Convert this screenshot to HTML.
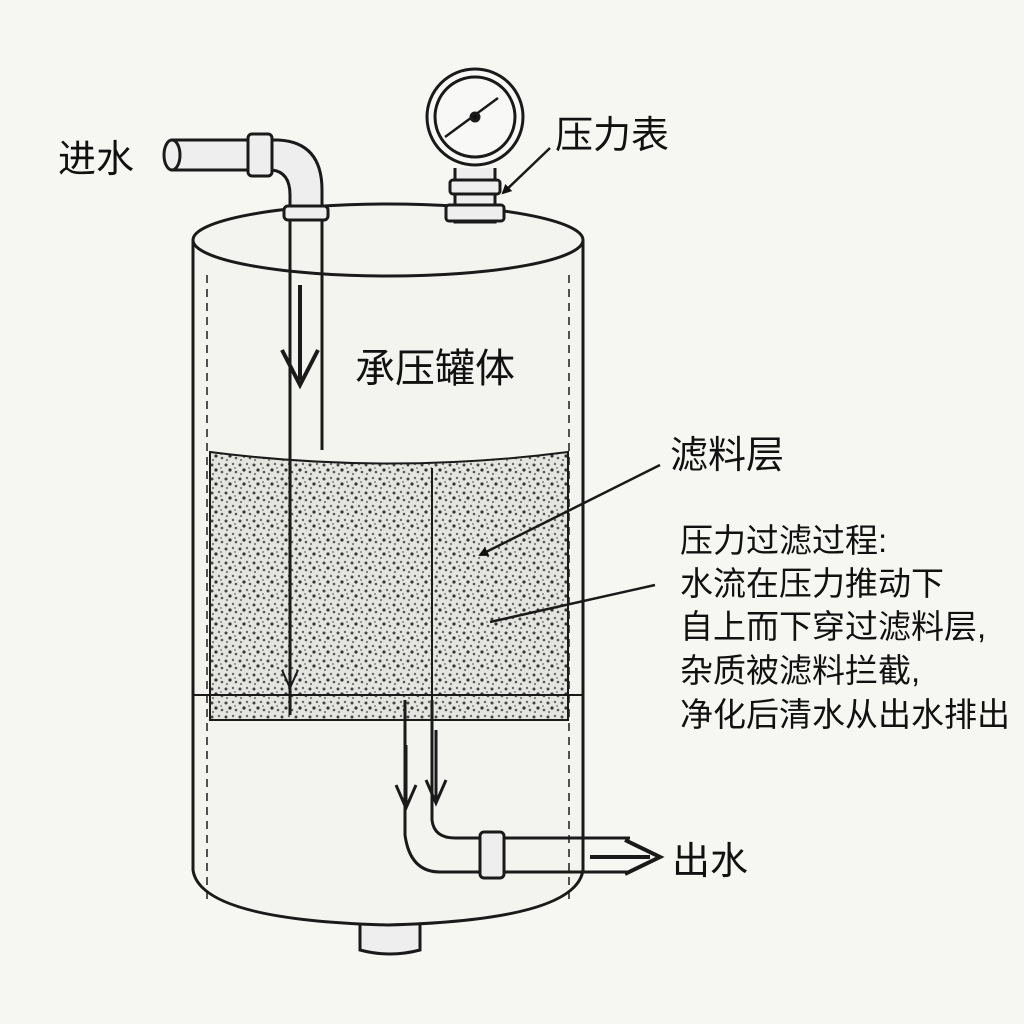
<!DOCTYPE html>
<html><head><meta charset="utf-8"><style>
html,body{margin:0;padding:0;background:#f6f6f3;}
svg{display:block}
text{font-family:"Liberation Sans","Noto Sans CJK SC",sans-serif;fill:#111;}
</style></head><body>
<svg width="1024" height="1024" viewBox="0 0 1024 1024" xmlns="http://www.w3.org/2000/svg">
<defs>
<pattern id="sp" width="14" height="14" patternUnits="userSpaceOnUse">
<rect width="14" height="14" fill="#e4e4e0"/>
<circle cx="2" cy="3" r="1.5" fill="#444"/>
<circle cx="9" cy="2" r="1.2" fill="#666"/>
<circle cx="6" cy="8" r="1.6" fill="#333"/>
<circle cx="12" cy="10" r="1.3" fill="#555"/>
<circle cx="3" cy="12" r="1.1" fill="#777"/>
<circle cx="11" cy="6" r="1" fill="#888"/>
</pattern>
<marker id="ah" markerWidth="10" markerHeight="10" refX="8" refY="5" orient="auto" markerUnits="userSpaceOnUse"><path d="M0,0 L10,5 L0,10 z" fill="#111"/></marker>
</defs>
<rect width="1024" height="1024" fill="#f6f6f3"/>
<g stroke="#1a1a1a" stroke-width="3" fill="none">
<path d="M360,915 L360,950 Q390,958 420,950 L420,915" fill="#eee"/>
<path d="M193,240 L193,870 Q200,920 388,925 Q576,920 583,870 L583,240" fill="#f3f3f0"/>
<ellipse cx="388" cy="240" rx="195" ry="36" fill="#f3f3f0"/>
<line x1="207" y1="275" x2="207" y2="900" stroke-dasharray="8 6" stroke-width="1.5"/>
<line x1="569" y1="275" x2="569" y2="900" stroke-dasharray="8 6" stroke-width="1.5"/>
<path d="M210,452 Q390,475 568,452 L568,720 L210,720 Z" fill="url(#sp)" stroke-width="2"/>
<line x1="193" y1="695" x2="583" y2="695" stroke-width="2"/>
<line x1="432" y1="468" x2="432" y2="720" stroke-width="2"/>
<path d="M172,140 L278,140 Q322,142 322,190 L322,215 L290,215 L290,195 Q290,172 272,170 L172,170 Z" fill="#eee"/>
<ellipse cx="172" cy="155" rx="8" ry="15" fill="#eee"/>
<rect x="248" y="134" width="24" height="42" rx="4" fill="#eee"/>
<rect x="284" y="206" width="44" height="14" rx="4" fill="#eee"/>
<line x1="290" y1="220" x2="290" y2="715"/>
<line x1="322" y1="220" x2="322" y2="450"/>
<path d="M300,285 L300,380 M282,350 L300,385 L318,350" stroke-width="4"/>
<path d="M282,670 L290,688 L298,670" stroke-width="2"/>
<path d="M455,168 L455,222 L495,222 L495,168" fill="#eee"/>
<rect x="450" y="180" width="50" height="14" rx="3" fill="#eee"/>
<rect x="446" y="205" width="58" height="16" rx="3" fill="#eee"/>
<circle cx="475" cy="117" r="48" fill="#f8f8f6"/>
<circle cx="475" cy="117" r="40"/>
<line x1="445" y1="137" x2="498" y2="98" stroke-width="2.5"/>
<circle cx="475" cy="117" r="4" fill="#111"/>
<path d="M405,700 L405,835 Q410,872 440,872 L630,872 M432,700 L432,820 Q434,838 455,838 L630,838" fill="none"/>
<rect x="480" y="832" width="24" height="46" rx="4" fill="#eee"/>
<path d="M406,745 L406,805 M396,785 L406,808 L416,785" stroke-width="3"/>
<path d="M436,730 L436,800 M426,780 L436,803 L446,780" stroke-width="3"/>
<path d="M590,857 L650,857 M625,840 L660,857 L625,874" stroke-width="4"/>
<line x1="550" y1="148" x2="503" y2="193" stroke-width="2.5" marker-end="url(#ah)"/>
<line x1="660" y1="465" x2="480" y2="555" stroke-width="2.5" marker-end="url(#ah)"/>
<line x1="655" y1="585" x2="490" y2="622" stroke-width="2.5"/>
</g>
<text x="58" y="172" font-size="38">进水</text>
<text x="555" y="148" font-size="38">压力表</text>
<text x="355" y="382" font-size="40">承压罐体</text>
<text x="670" y="468" font-size="38">滤料层</text>
<g font-size="33">
<text x="680" y="552">压力过滤过程:</text>
<text x="680" y="595">水流在压力推动下</text>
<text x="680" y="638">自上而下穿过滤料层,</text>
<text x="680" y="682">杂质被滤料拦截,</text>
<text x="680" y="726">净化后清水从出水排出</text>
</g>
<text x="672" y="874" font-size="38">出水</text>
</svg>
</body></html>
